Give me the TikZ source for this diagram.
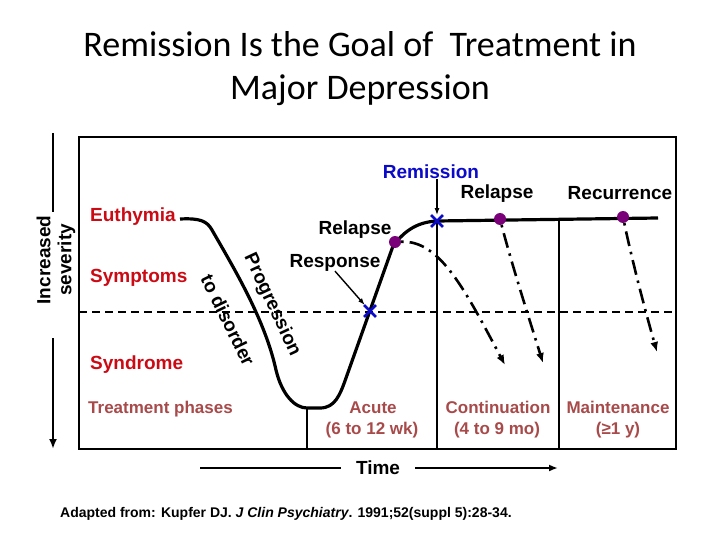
\documentclass[tikz,border=0pt]{standalone}
\usepackage{fontspec}
\setmainfont{Liberation Sans}
\newfontfamily\titlefont{Carlito}
\usetikzlibrary{shapes.misc,arrows.meta}
\definecolor{labelred}{RGB}{204,10,20}
\definecolor{phasecol}{RGB}{168,74,74}
\definecolor{markblue}{RGB}{10,10,200}
\definecolor{dotpurple}{RGB}{122,0,122}
\begin{document}
\begin{tikzpicture}[x=1pt,y=-1pt,
  lbl/.style={font=\bfseries\fontsize{19}{21}\selectfont,inner sep=0pt},
  redlbl/.style={lbl,text=labelred,anchor=base west},
  phase/.style={font=\bfseries\fontsize{17}{19}\selectfont,text=phasecol,anchor=base,inner sep=0pt},
  frame/.style={line width=2.8pt},
  curve/.style={line width=3.2pt,line join=round},
  relapsearrow/.style={line width=2.6pt,dash pattern=on 2.5pt off 6pt on 15pt off 6pt,-{Latex[length=10pt,width=8pt]}},
  dot/.style={circle,fill=dotpurple,inner sep=0pt,minimum size=12pt},
  xmark/.style={cross out,draw=markblue,line width=2.8pt,inner sep=0pt,minimum size=9pt},
  pointer/.style={line width=1.4pt,-{Latex[length=7pt,width=5pt]}}]
\useasboundingbox (0,0) rectangle (720,540);

% title
\node[font=\titlefont\fontsize{36}{43}\selectfont,anchor=base] (title1) at (360,57) {Remission Is the Goal of \ Treatment in};
\node[font=\titlefont\fontsize{36}{43}\selectfont,anchor=base] (title2) at (360,100) {Major Depression};

% frame, threshold and phases
\draw[frame] (79,137) rectangle (676,449);
\draw[line width=2.2pt,dash pattern=on 8pt off 5pt] (79,312) -- (676,312);
\draw[frame] (307,408) -- (307,449);
\draw[frame] (437,221) -- (437,449);
\draw[frame] (559,219) -- (559,449);

% severity axis
\node[lbl,rotate=90,align=center,font=\bfseries\fontsize{19}{21}\selectfont] (sev) at (56,260) {Increased\\severity};
\coordinate (sevtop) at (53,133);
\coordinate (sevlow) at (53,338);
\coordinate (sevend) at (53,449);
\draw[line width=2.2pt] (sevtop) -- (53,212);
\draw[line width=2.2pt,-{Latex[length=10pt,width=8pt]}] (sevlow) -- (sevend);

% left labels
\node[redlbl] (euth) at (90,222) {Euthymia};
\node[redlbl] (sympt) at (90,282) {Symptoms};
\node[redlbl] (synd) at (90,369) {Syndrome};
\node[phase,anchor=base west] (phases) at (88,413) {Treatment phases};

% course of illness
\draw[curve] (180,219) .. controls (200,218) and (207,221) .. (212,230)
  .. controls (235,270) and (265,320) .. (276,370)
  .. controls (282,395) and (295,408) .. (307,408)
  -- (320,408) .. controls (335,408) and (340,395) .. (346,378)
  -- (393,246) .. controls (405,230) and (418,222) .. (437,221)
  -- (658,218);
\node[lbl,rotate=-65] (prog) at (272,305) {Progression};
\node[lbl,rotate=-64] (todis) at (228,320) {to disorder};

% relapse / recurrence
\node[dot] (dotA) at (395,242) {};
\node[dot] (dotB) at (500,219) {};
\node[dot] (dotC) at (623,217) {};
\draw[relapsearrow] (dotA) .. controls (440,240) and (465,290) .. (505,365);
\draw[relapsearrow] (dotB) .. controls (512,265) and (528,315) .. (543,363);
\draw[relapsearrow] (dotC) .. controls (632,260) and (645,310) .. (657,352);

\node[xmark] (xresp) at (370,311) {};
\node[xmark] (xremit) at (437,221) {};

% event labels
\node[lbl,text=markblue,anchor=base] (remit) at (431,179) {Remission};
\node[lbl,anchor=base] (relB) at (497,199) {Relapse};
\node[lbl,anchor=base] (recur) at (620,200) {Recurrence};
\node[lbl,anchor=base] (relA) at (355,235) {Relapse};
\node[lbl,anchor=base] (resp) at (335,267) {Response};
\draw[pointer] (remit.south -| xremit) -- (xremit.north);
\draw[pointer] (resp.south) -- (xresp);

% phase names
\node[phase] (acute) at (373,413) {Acute};
\node[phase] (acutedur) at (372,434) {(6 to 12 wk)};
\node[phase] (cont) at (498,413) {Continuation};
\node[phase] (contdur) at (497,434) {(4 to 9 mo)};
\node[phase] (maint) at (618,413) {Maintenance};
\node[phase] (maintdur) at (618,434) {(≥1 y)};

% time axis
\node[lbl,inner xsep=15pt] (time) at (378,468) {Time};
\coordinate (tstart) at (200,468);
\coordinate (tend) at (558,468);
\draw[line width=2.2pt] (tstart) -- (time);
\draw[line width=2.2pt,-{Latex[length=9pt,width=7pt]}] (time) -- (tend);

% source
\node[font=\bfseries\fontsize{14}{15}\selectfont,anchor=base west,inner sep=0pt] (src) at (60,517) {Adapted from: Kupfer DJ. \textit{J Clin Psychiatry}. 1991;52(suppl 5):28-34.};
\end{tikzpicture}
\end{document}
